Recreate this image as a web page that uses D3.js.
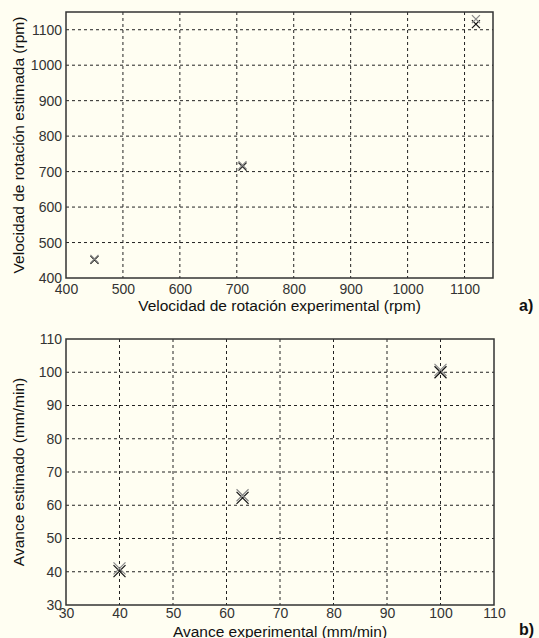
<!DOCTYPE html>
<html>
<head>
<meta charset="utf-8">
<script src="https://cdn.jsdelivr.net/npm/d3@7"></script>
<style>
  body { margin: 0; background: #fffef2; }
  svg { display: block; font-family: "Liberation Sans", Arial, sans-serif; }
  .grid line { stroke: #222; stroke-dasharray: 3,3; stroke-width: 1; }
  .axis text { font-size: 14px; fill: #333; }
  .axis path, .axis line { stroke: #333; }
</style>
</head>
<body>
<div id="chart"></div>
<script>
// a) rotation speed
var rpmExp = [450, 450, 710, 710, 1120, 1120];
var rpmEst = [451, 454, 714, 718, 1116, 1130];
var rpmTicks = [400, 500, 600, 700, 800, 900, 1000, 1100];

// b) feed rate
var feedExp = [40, 40, 63, 63, 100, 100];
var feedEst = [40.2, 41, 62.2, 63, 100, 100.7];
var feedTicks = [30, 40, 50, 60, 70, 80, 90, 100, 110];

var svg = d3.select("#chart").append("svg")
  .attr("width", 539)
  .attr("height", 638);

function panel(opts) {
  var x = d3.scaleLinear().domain(opts.xDomain).range([opts.left, opts.right]);
  var y = d3.scaleLinear().domain(opts.yDomain).range([opts.bottom, opts.top]);
  var g = svg.append("g");

  // dashed grid
  g.append("g").attr("class", "grid")
    .selectAll("line.v")
    .data(opts.ticks.filter(function(d) { return x(d) > opts.left + 1 && x(d) < opts.right - 1; }))
    .enter().append("line")
    .attr("x1", function(d) { return x(d); })
    .attr("x2", function(d) { return x(d); })
    .attr("y1", opts.top).attr("y2", opts.bottom);
  g.append("g").attr("class", "grid")
    .selectAll("line.h")
    .data(opts.ticks.filter(function(d) { return y(d) > opts.top + 1 && y(d) < opts.bottom - 1; }))
    .enter().append("line")
    .attr("y1", function(d) { return y(d); })
    .attr("y2", function(d) { return y(d); })
    .attr("x1", opts.left).attr("x2", opts.right);

  // box
  g.append("rect")
    .attr("x", opts.left).attr("y", opts.top)
    .attr("width", opts.right - opts.left).attr("height", opts.bottom - opts.top)
    .attr("fill", "none").attr("stroke", "#333").attr("stroke-width", 1.5);

  var xAxis = d3.axisBottom(x).tickValues(opts.ticks).tickSize(0).tickPadding(opts.xPad).tickFormat(d3.format("d"));
  var yAxis = d3.axisLeft(y).tickValues(opts.ticks).tickSize(0).tickPadding(4).tickFormat(d3.format("d"));

  g.append("g").attr("class", "axis")
    .attr("transform", "translate(0," + opts.bottom + ")")
    .call(xAxis)
    .call(function(s) { s.select(".domain").remove(); });
  g.append("g").attr("class", "axis")
    .attr("transform", "translate(" + opts.left + ",0)")
    .call(yAxis)
    .call(function(s) { s.select(".domain").remove(); });

  // markers
  var pts = opts.xs.map(function(d, i) { return [d, opts.ys[i]]; });
  var r = opts.marker;
  g.selectAll("path.mk")
    .data(pts)
    .enter().append("path")
    .attr("d", function(d) {
      var cx = x(d[0]), cy = y(d[1]);
      return "M" + (cx - r) + "," + (cy - r) + "L" + (cx + r) + "," + (cy + r) +
        "M" + (cx - r) + "," + (cy + r) + "L" + (cx + r) + "," + (cy - r);
    })
    .attr("stroke", function(d, i) { return i % 2 ? "#888" : "#111"; })
    .attr("stroke-width", 1.2)
    .attr("fill", "none");

  g.append("text")
    .attr("x", (opts.left + opts.right) / 2)
    .attr("y", opts.xLabelY)
    .attr("text-anchor", "middle")
    .attr("font-size", 15.5)
    .attr("fill", "#111")
    .text(opts.xLabel);
  g.append("text")
    .attr("transform", "translate(24," + ((opts.top + opts.bottom) / 2) + ") rotate(-90)")
    .attr("text-anchor", "middle")
    .attr("font-size", 15.5)
    .attr("fill", "#111")
    .text(opts.yLabel);
  g.append("text")
    .attr("x", 519).attr("y", opts.tagY)
    .attr("font-size", 16).attr("font-weight", "bold")
    .attr("fill", "#111")
    .text(opts.tag);
}

panel({
  xDomain: [400, 1150], yDomain: [400, 1150],
  left: 66, right: 493, top: 12, bottom: 278,
  ticks: rpmTicks, xs: rpmExp, ys: rpmEst, marker: 4, xPad: 6,
  xLabel: "Velocidad de rotación experimental (rpm)", xLabelY: 311,
  yLabel: "Velocidad de rotación estimada (rpm)",
  tag: "a)", tagY: 311
});

panel({
  xDomain: [30, 110], yDomain: [30, 110],
  left: 66, right: 494, top: 339, bottom: 605,
  ticks: feedTicks, xs: feedExp, ys: feedEst, marker: 6, xPad: 3,
  xLabel: "Avance experimental (mm/min)", xLabelY: 637,
  yLabel: "Avance estimado (mm/min)",
  tag: "b)", tagY: 635
});
</script>
</body>
</html>
